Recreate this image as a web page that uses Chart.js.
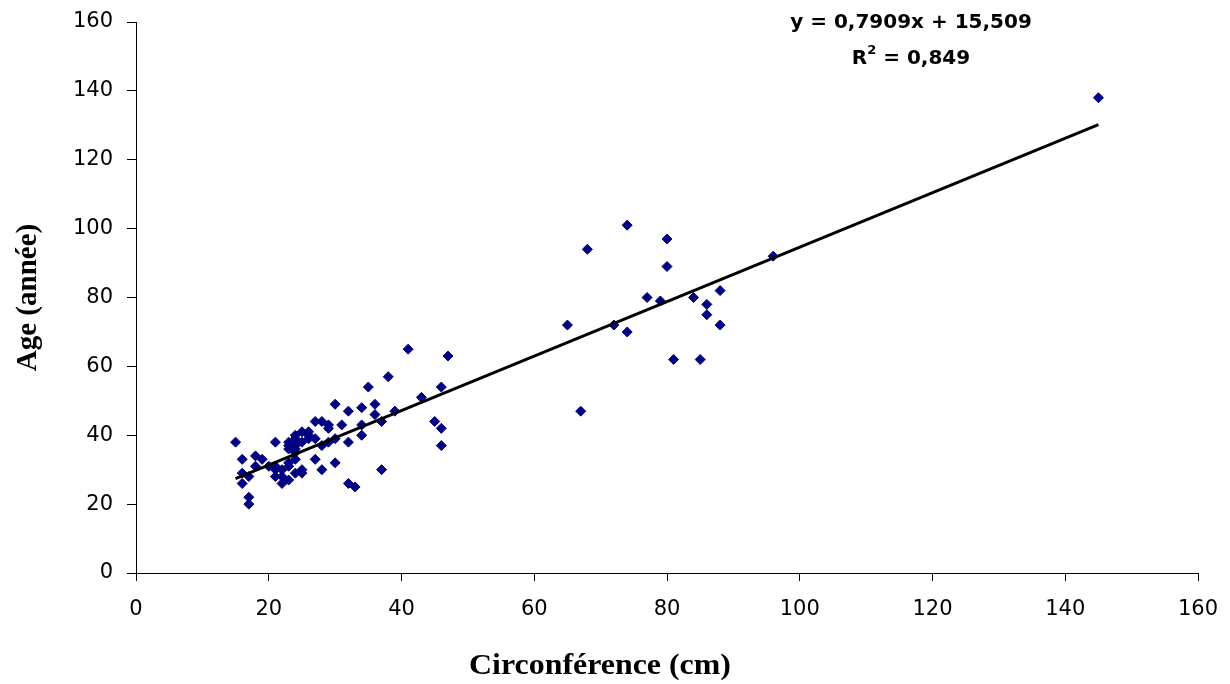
<!DOCTYPE html>
<html lang="fr">
<head>
<meta charset="UTF-8">
<title>Age en fonction de la circonférence</title>
<script src="https://cdn.jsdelivr.net/npm/chart.js"></script>
<style>
  html, body { margin: 0; padding: 0; background: #fff; }
  #wrap { width: 1230px; height: 684px; }
</style>
</head>
<body>
<div id="wrap"><canvas id="chart"></canvas></div>
<script>
const circonference = [
  15, 16, 16, 16, 17, 17, 17, 18, 18, 19, 20, 21, 21, 21, 21, 22, 22, 22,
  23, 23, 23, 23, 23, 23, 24, 24, 24, 24, 24, 24, 24, 25, 25, 25, 25,
  26, 26, 26, 27, 27, 27, 28, 28, 28, 29, 29, 29, 30, 30, 30, 31, 32, 32,
  32, 33, 34, 34, 34, 35, 36, 36, 37, 37, 38, 39, 41, 43, 45, 46, 46, 46, 47,
  65, 67, 68, 72, 74, 74, 77, 79, 80, 80, 81, 84, 85, 86, 86, 88, 88, 96, 145
];
const age = [
  38, 33, 29, 26, 28, 22, 20, 34, 31, 33, 31, 31, 28, 38, 30, 26, 30, 28,
  27, 32, 31, 36, 37, 38, 33, 29, 36, 37, 35, 39, 40, 29, 30, 41, 38,
  41, 40, 39, 44, 39, 33, 44, 37, 30, 43, 42, 38, 49, 39, 32, 43, 47, 38,
  26, 25, 48, 43, 40, 54, 49, 46, 44, 30, 57, 47, 65, 51, 44, 54, 42, 37, 63,
  72, 47, 94, 72, 101, 70, 80, 79, 97, 89, 62, 80, 62, 78, 75, 82, 72, 92, 138
];

// droite de tendance (extrémités)
const trendX = [15, 145];
const trendY = [27.4, 130.2];

const axisMin = 0;
const axisMax = 160;
const axisStep = 20;

const xTitle = 'Circonférence (cm)';
const yTitle = 'Age (année)';
const equationText = 'y = 0,7909x + 15,509';
const r2Value = ' = 0,849';

const points = circonference.map((x, i) => ({ x: x, y: age[i] }));
const trend = trendX.map((x, i) => ({ x: x, y: trendY[i] }));

// équation + titre de l'axe x (décalé à gauche comme dans l'original)
const textPlugin = {
  id: 'textes',
  afterDraw(chart) {
    const ctx = chart.ctx;
    const cx = 911;
    ctx.save();
    ctx.fillStyle = '#000';
    ctx.textBaseline = 'middle';
    ctx.font = 'bold 20px "DejaVu Sans"';
    ctx.textAlign = 'center';
    ctx.fillText(equationText, cx, 23);

    ctx.textAlign = 'left';
    const wR = ctx.measureText('R').width;
    const wRest = ctx.measureText(r2Value).width;
    ctx.font = 'bold 13px "DejaVu Sans"';
    const wSup = ctx.measureText('2').width;
    let x = cx - (wR + wSup + wRest) / 2;
    ctx.font = 'bold 20px "DejaVu Sans"';
    ctx.fillText('R', x, 59);
    x += wR;
    ctx.font = 'bold 13px "DejaVu Sans"';
    ctx.fillText('2', x, 51);
    x += wSup;
    ctx.font = 'bold 20px "DejaVu Sans"';
    ctx.fillText(r2Value, x, 59);

    // titre axe x, un peu étiré en largeur
    ctx.font = 'bold 29px "Liberation Serif"';
    ctx.textAlign = 'center';
    ctx.translate(600, 667);
    ctx.scale(1.1, 1);
    ctx.fillText(xTitle, 0, 0);
    ctx.restore();
  }
};

const tickFont = { family: '"DejaVu Sans"', size: 21 };
const titleFont = { family: '"Liberation Serif"', size: 29, weight: 'bold' };

new Chart(document.getElementById('chart'), {
  type: 'scatter',
  data: {
    datasets: [
      {
        type: 'line',
        label: 'Tendance',
        data: trend,
        borderColor: '#000',
        borderWidth: 3,
        pointRadius: 0,
        fill: false,
        order: 0
      },
      {
        label: 'Age',
        data: points,
        pointStyle: 'rectRot',
        pointRadius: 5,
        pointBackgroundColor: '#000080',
        pointBorderColor: '#000080',
        pointBorderWidth: 1,
        order: 1
      }
    ]
  },
  options: {
    responsive: true,
    maintainAspectRatio: false,
    animation: false,
    layout: { padding: { top: 22, right: 32, left: 0, bottom: 0 } },
    plugins: {
      legend: { display: false },
      tooltip: { enabled: false }
    },
    scales: {
      x: {
        type: 'linear',
        min: axisMin,
        max: axisMax,
        afterFit(scale) {
          scale.height = 111;
          scale.paddingLeft = 0;
          scale.paddingRight = 0;
        },
        ticks: { stepSize: axisStep, color: '#000', font: tickFont, padding: 16, maxRotation: 0 },
        grid: { drawOnChartArea: false, tickLength: 8, color: '#000' },
        border: { color: '#000', width: 1 },
        title: { display: false }
      },
      y: {
        type: 'linear',
        min: axisMin,
        max: axisMax,
        afterFit(scale) {
          scale.width = 136;
          scale.paddingTop = 0;
          scale.paddingBottom = 0;
        },
        ticks: { stepSize: axisStep, color: '#000', font: tickFont, padding: 14 },
        grid: { drawOnChartArea: false, tickLength: 9, color: '#000' },
        border: { color: '#000', width: 1 },
        title: {
          display: true,
          text: yTitle,
          color: '#000',
          font: titleFont,
          padding: { top: 11, bottom: 0 }
        }
      }
    }
  },
  plugins: [textPlugin]
});
</script>
</body>
</html>
